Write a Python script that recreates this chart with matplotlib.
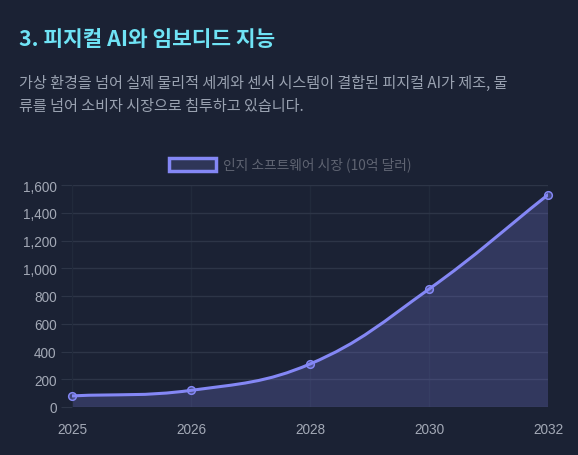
import matplotlib.pyplot as plt
from matplotlib.path import Path
from matplotlib.patches import PathPatch, Rectangle
import numpy as np

plt.rcParams['font.family'] = ['Noto Sans CJK KR', 'DejaVu Sans']

# 데이터
years = ['2025', '2026', '2028', '2030', '2032']
market = [80, 120, 310, 850, 1530]
yticks = [0, 200, 400, 600, 800, 1000, 1200, 1400, 1600]

title = '3. 피지컬 AI와 임보디드 지능'
desc_1 = '가상 환경을 넘어 실제 물리적 세계와 센서 시스템이 결합된 피지컬 AI가 제조, 물'
desc_2 = '류를 넘어 소비자 시장으로 침투하고 있습니다.'
legend_label = '인지 소프트웨어 시장 (10억 달러)'

bg = '#1b2234'
grid_c = '#2d3547'
vgrid_c = '#212a3b'
line_c = '#8487f5'
fill_c = (0.52, 0.53, 0.96, 0.22)
tick_c = '#a3a9b6'

W, H = 578, 456
fig = plt.figure(figsize=(W / 100, H / 100), dpi=100)
fig.patch.set_facecolor(bg)

# 제목 / 설명
fig.text(19 / W, 1 - 40 / H, title, color='#6fe3f5', fontsize=15.4,
         fontweight='bold', va='center', ha='left')
fig.text(19 / W, 1 - 83 / H, desc_1, color='#9aa2b1', fontsize=10.9,
         va='center', ha='left')
fig.text(19 / W, 1 - 107 / H, desc_2, color='#9aa2b1', fontsize=10.9,
         va='center', ha='left')

# 축
left, right, bottom, top = 72, 548, 408, 186
ax = fig.add_axes([left / W, 1 - bottom / H, (right - left) / W, (bottom - top) / H])
ax.set_facecolor(bg)
x = np.arange(len(years))
ax.set_xlim(0, len(years) - 1)
ax.set_ylim(0, 1600)

# Chart.js 스타일 곡선 (tension 0.4, 픽셀 거리 기준)
sx = (right - left) / (len(years) - 1)
sy = (bottom - top) / 1600
px = x * sx
py = np.array(market) * sy
t = 0.4
cps = []
n = len(x)
for i in range(n):
    pi = max(i - 1, 0)
    ni = min(i + 1, n - 1)
    d01 = np.hypot(px[i] - px[pi], py[i] - py[pi])
    d12 = np.hypot(px[ni] - px[i], py[ni] - py[i])
    s01 = d01 / (d01 + d12) if d01 + d12 else 0
    s12 = d12 / (d01 + d12) if d01 + d12 else 0
    fa, fb = t * s01, t * s12
    dx, dy = px[ni] - px[pi], py[ni] - py[pi]
    c1 = (px[i] - fa * dx, py[i] - fa * dy)
    c2 = (px[i] + fb * dx, py[i] + fb * dy)
    cps.append((c1, c2))

verts = [(px[0] / sx, py[0] / sy)]
codes = [Path.MOVETO]
for i in range(n - 1):
    a = cps[i][1]
    b = cps[i + 1][0]
    verts += [(a[0] / sx, a[1] / sy), (b[0] / sx, b[1] / sy), (x[i + 1], market[i + 1])]
    codes += [Path.CURVE4] * 3

curve = Path(verts, codes)
fill_path = Path(verts + [(x[-1], 0), (x[0], 0), (x[0], market[0])],
                 codes + [Path.LINETO, Path.LINETO, Path.CLOSEPOLY])
ax.add_patch(PathPatch(fill_path, facecolor=fill_c, edgecolor='none', zorder=2))
ax.add_patch(PathPatch(curve, facecolor='none', edgecolor=line_c, lw=2.2,
                       zorder=3, capstyle='round', joinstyle='round'))
ax.plot(x, market, 'o', ms=5.5, mfc=(0.52, 0.53, 0.96, 0.35), mec=line_c,
        mew=1.1, zorder=4, clip_on=False)

ax.set_xticks(x)
ax.set_xticklabels(years)
ax.set_yticks(yticks)
ax.set_yticklabels([f'{v:,}' for v in yticks])
ax.grid(True, axis='y', color=grid_c, lw=1, zorder=0)
ax.grid(True, axis='x', color=vgrid_c, lw=1, zorder=0)
ax.tick_params(axis='y', length=8, color=grid_c, colors=tick_c, labelsize=9.8, pad=3)
ax.tick_params(axis='x', length=0, colors=tick_c, labelsize=9.8, pad=11)
for lab in ax.get_xticklabels() + ax.get_yticklabels():
    lab.set_family(['Liberation Sans', 'DejaVu Sans'])
for s in ['top', 'right', 'bottom']:
    ax.spines[s].set_visible(False)
ax.spines['left'].set_color(vgrid_c)

# 범례
fig.patches.append(Rectangle((169 / W, 1 - 172 / H), 47 / W, 13 / H,
                             transform=fig.transFigure, facecolor='#2f3658',
                             edgecolor=line_c, lw=2.5))
fig.text(223 / W, 1 - 165 / H, legend_label, color='#5f6472', fontsize=9.9,
         va='center', ha='left')

fig.savefig('out.png', dpi=100, facecolor=bg)
